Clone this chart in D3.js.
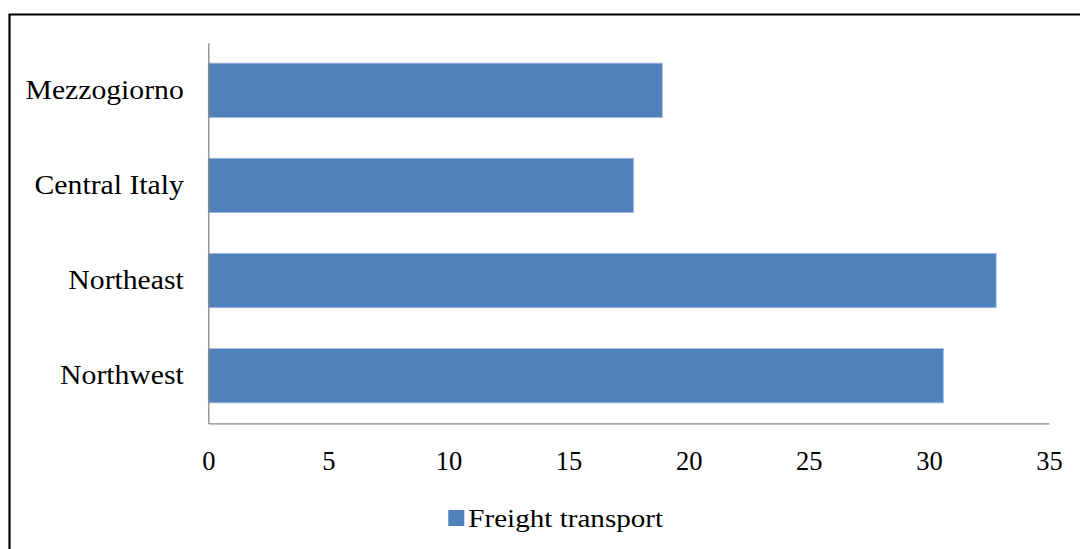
<!DOCTYPE html>
<html>
<head>
<meta charset="utf-8">
<script src="https://cdn.jsdelivr.net/npm/d3@7/dist/d3.min.js"></script>
<style>
  html, body { margin: 0; padding: 0; background: #fff; }
  svg { display: block; }
  text { font-family: 'Liberation Serif', 'Times New Roman', serif; fill: #000; }
</style>
</head>
<body>
<svg id="chart" width="1080" height="549"></svg>
<script>
// Regions, listed bottom to top as they appear on the chart
const regions = ["Northwest", "Northeast", "Central Italy", "Mezzogiorno"];
const freightTransport = [30.6, 32.8, 17.7, 18.9];
const xTicks = [0, 5, 10, 15, 20, 25, 30, 35];
const seriesName = "Freight transport";

const svg = d3.select("#chart");
const W = 1080, H = 549;
const plot = { left: 208.3, right: 1049, top: 42.7, bottom: 423.3 };
const barColor = "#4f81bd";
const serif = "'Liberation Serif', 'Times New Roman', serif";

// Outer frame (runs off the right and bottom edges)
svg.append("path")
  .attr("d", `M9.5,${H + 2} L9.5,14.5 L${W + 2},14.5`)
  .attr("fill", "none")
  .attr("stroke", "#000")
  .attr("stroke-width", 2.2);

const x = d3.scaleLinear().domain([0, 35]).range([plot.left, plot.right]);
const y = d3.scaleBand()
  .domain(regions.slice().reverse())
  .range([plot.top, plot.bottom])
  .paddingInner(0.43)
  .paddingOuter(0.215);

const data = regions.map((r, i) => ({ region: r, value: freightTransport[i] }));

// Bars
svg.append("g").selectAll("rect")
  .data(data)
  .join("rect")
  .attr("x", x(0))
  .attr("y", d => y(d.region))
  .attr("width", d => x(d.value) - x(0))
  .attr("height", y.bandwidth())
  .attr("fill", barColor)
  .attr("stroke", "#9db5d9")
  .attr("stroke-width", 0.8);

// X axis
const xAxis = svg.append("g")
  .attr("transform", `translate(0,${plot.bottom})`)
  .attr("font-family", serif)
  .call(d3.axisBottom(x).tickValues(xTicks).tickSize(0).tickPadding(28).tickFormat(d3.format("d")));
xAxis.select(".domain").attr("stroke", "#878787").attr("stroke-width", 1.3);
xAxis.selectAll("text")
  .style("font-family", serif)
  .style("font-size", "26.5px")
  .attr("fill", "#000");

// Y axis (labels slightly widened, as in the original typesetting)
const yAxis = svg.append("g")
  .attr("transform", `translate(${plot.left},0)`)
  .attr("font-family", serif)
  .call(d3.axisLeft(y).tickSize(0).tickPadding(0));
yAxis.select(".domain").attr("stroke", "#878787").attr("stroke-width", 1.3);
yAxis.selectAll("text")
  .attr("x", 0)
  .attr("transform", "translate(-24.5,0) scale(1.1,1)")
  .style("font-family", serif)
  .style("font-size", "27px")
  .attr("fill", "#000");

// Legend
const legend = svg.append("g").attr("transform", "translate(448.3,510)");
legend.append("rect")
  .attr("width", 16).attr("height", 16)
  .attr("fill", barColor);
legend.append("text")
  .attr("x", 0)
  .attr("y", 0)
  .attr("transform", "translate(20,16.5) scale(1.12,1)")
  .style("font-family", serif)
  .style("font-size", "26px")
  .text(seriesName);
</script>
</body>
</html>
